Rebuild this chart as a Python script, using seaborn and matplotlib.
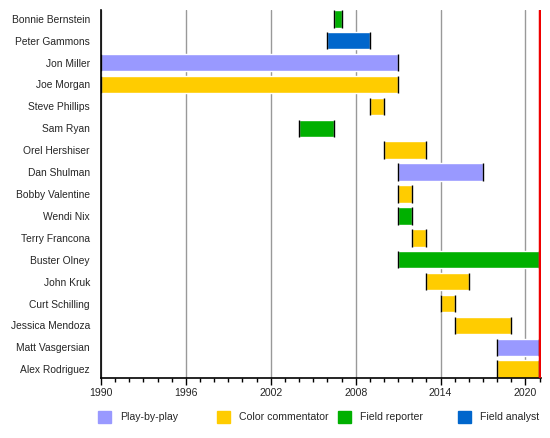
import numpy as np
import pandas as pd
import matplotlib
matplotlib.use("Agg")
import matplotlib.pyplot as plt
from matplotlib.patches import Rectangle
from matplotlib.ticker import MultipleLocator
import seaborn as sns

# broadcasters, top to bottom
names = ["Bonnie Bernstein", "Peter Gammons", "Jon Miller", "Joe Morgan",
         "Steve Phillips", "Sam Ryan", "Orel Hershiser", "Dan Shulman",
         "Bobby Valentine", "Wendi Nix", "Terry Francona", "Buster Olney",
         "John Kruk", "Curt Schilling", "Jessica Mendoza", "Matt Vasgersian",
         "Alex Rodriguez"]
start = [2006.5, 2006.0, 1990.0, 1990.0, 2009.0, 2004.0, 2010.0, 2011.0,
         2011.0, 2011.0, 2012.0, 2011.0, 2013.0, 2014.0, 2015.0, 2018.0, 2018.0]
end = [2007.0, 2009.0, 2011.0, 2011.0, 2010.0, 2006.5, 2013.0, 2017.0,
       2012.0, 2012.0, 2013.0, 2020.95, 2016.0, 2015.0, 2019.0, 2020.95, 2020.95]
role = ["Field reporter", "Field analyst", "Play-by-play", "Color commentator",
        "Color commentator", "Field reporter", "Color commentator", "Play-by-play",
        "Color commentator", "Field reporter", "Color commentator", "Field reporter",
        "Color commentator", "Color commentator", "Color commentator", "Play-by-play",
        "Color commentator"]

roles = ["Play-by-play", "Color commentator", "Field reporter", "Field analyst"]
role_colors = ["#9999FF", "#FFCC00", "#00B000", "#0066CC"]
year_ticks = [1990, 1996, 2002, 2008, 2014, 2020]
today = 2021.0

df = pd.DataFrame({"name": names, "start": start, "end": end, "role": role})
df["row"] = np.arange(len(df))
palette = dict(zip(roles, role_colors))

sns.set_style("white")
plt.rcParams["font.family"] = ["Liberation Sans", "DejaVu Sans"]

fig = plt.figure(figsize=(5.5, 4.38), dpi=100)
ax = fig.add_axes([101 / 550, 1 - 378 / 438, 440 / 550, 368 / 438])

bar_h = 0.8
ax.barh(df["row"], df["end"] - df["start"], left=df["start"], height=bar_h,
        color=df["role"].map(palette), zorder=2)
# thin black marks at both ends of each bar
ax.vlines(df["start"], df["row"] - bar_h / 2, df["row"] + bar_h / 2, color="black", lw=1, zorder=3)
ax.vlines(df["end"], df["row"] - bar_h / 2, df["row"] + bar_h / 2, color="black", lw=1, zorder=3)

ax.axvline(today, color="#EE0000", lw=2.5, zorder=4)

ax.set_xlim(1990, 2021.1)
ax.set_ylim(len(df) - 1 + bar_h / 2, -bar_h / 2)
ax.set_yticks(df["row"])
ax.set_yticklabels(df["name"], fontsize=7.4)
ax.set_xticks(year_ticks)
ax.xaxis.set_minor_locator(MultipleLocator(1))
ax.tick_params(axis="x", which="major", length=5, width=1, direction="out",
               bottom=True, labelsize=7.6, pad=2, color="black")
ax.tick_params(axis="x", which="minor", length=3, width=1, direction="out",
               bottom=True, color="black")
ax.tick_params(axis="y", length=0, pad=8)
ax.grid(axis="x", which="major", color="#999999", lw=1, zorder=0)
ax.set_axisbelow(True)

for side in ["top", "right"]:
    ax.spines[side].set_visible(False)
for side in ["left", "bottom"]:
    ax.spines[side].set_color("black")
    ax.spines[side].set_linewidth(1.2)

# legend row under the axis
leg_x = [98, 217, 338, 458]
for x0, lab, col in zip(leg_x, roles, role_colors):
    fig.add_artist(Rectangle((x0 / 550, 1 - 423 / 438), 12.5 / 550, 12 / 438,
                             transform=fig.transFigure, color=col))
    fig.text((x0 + 22.5) / 550, 1 - 417 / 438, lab, fontsize=7.6, va="center", ha="left")

fig.savefig("out.png", dpi=100)
